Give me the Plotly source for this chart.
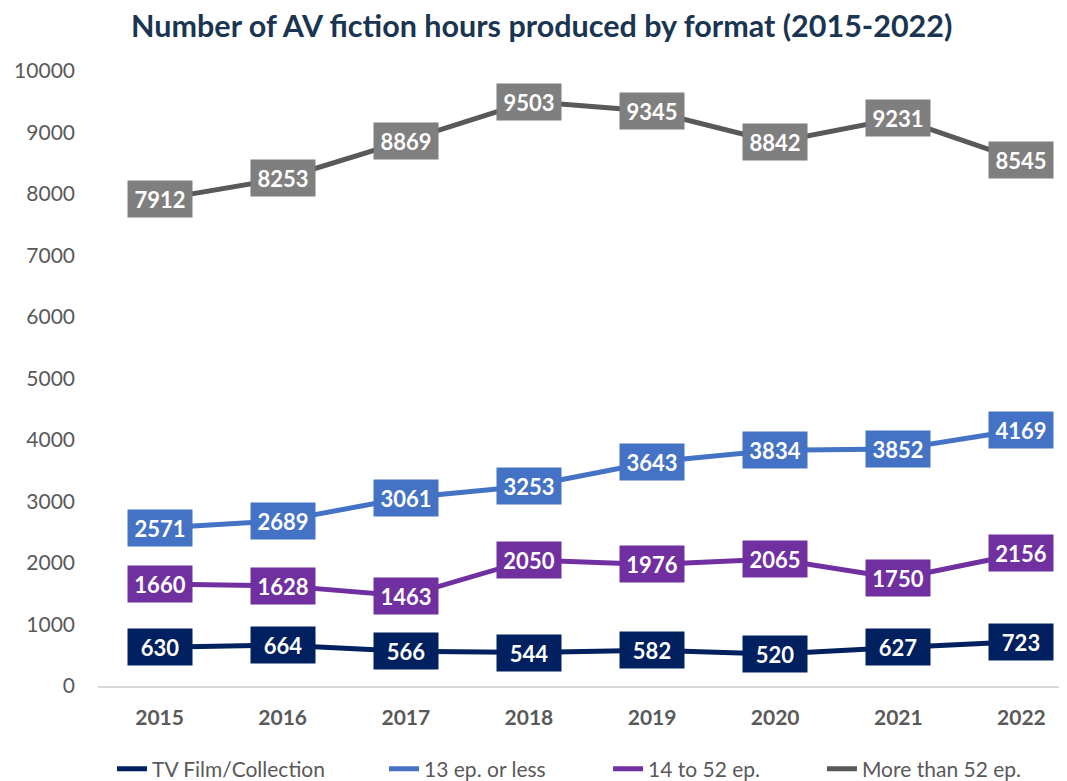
import plotly.graph_objects as go

years = ["2015", "2016", "2017", "2018", "2019", "2020", "2021", "2022"]
tv_film = [630, 664, 566, 544, 582, 520, 627, 723]
ep13_or_less = [2571, 2689, 3061, 3253, 3643, 3834, 3852, 4169]
ep14_to_52 = [1660, 1628, 1463, 2050, 1976, 2065, 1750, 2156]
more_than_52 = [7912, 8253, 8869, 9503, 9345, 8842, 9231, 8545]

series = [
    ("TV Film/Collection", tv_film, "#002060", "#002060"),
    ("13 ep. or less", ep13_or_less, "#4472C4", "#4472C4"),
    ("14 to 52 ep.", ep14_to_52, "#7030A0", "#7030A0"),
    ("More than 52 ep.", more_than_52, "#595959", "#7F7F7F"),
]
legend_x = [0.0982, 0.3551, 0.5666, 0.7686]

W, H = 1059, 773  # page body has an 8px margin
FONT = "Lato, Calibri, sans-serif"
fig = go.Figure()
annotations = []
legends = {}
for k, (name, vals, lc, bc) in enumerate(series):
    lname = "legend" if k == 0 else f"legend{k+1}"
    fig.add_trace(go.Scatter(
        x=list(range(len(years))), y=vals, name=name, mode="lines",
        line=dict(color=lc, width=5), legend=lname,
    ))
    legends[lname] = dict(
        orientation="h", x=legend_x[k], xanchor="left", xref="container",
        y=0.0155, yanchor="middle", yref="container",
        font=dict(family=FONT, size=21, color="#595959"),
        itemwidth=30, bgcolor="rgba(0,0,0,0)",
    )
    for i, v in enumerate(vals):
        annotations.append(dict(
            x=i, y=v, xref="x", yref="y", text=f"<b>{v}</b>", showarrow=False,
            bgcolor=bc, width=64, height=36, borderpad=0,
            font=dict(family=FONT, size=22, color="white"),
            xanchor="center", yanchor="middle",
        ))

fig.update_layout(
    width=W, height=H,
    margin=dict(l=90, r=0, t=63, b=95, autoexpand=False),
    paper_bgcolor="white", plot_bgcolor="white",
    showlegend=True,
    title=dict(text="<b>Number of AV fiction hours produced by format (2015-2022)</b>",
               x=0.504, xanchor="center", xref="container", y=0.976, yanchor="middle",
               font=dict(family=FONT, size=30.5, color="#1A3552")),
    xaxis=dict(
        tickmode="array", tickvals=list(range(len(years))),
        ticktext=[f"<b>{y}</b>" for y in years],
        range=[-0.5, 7.37], showgrid=False, zeroline=False,
        showline=True, linecolor="#D9D9D9", linewidth=2,
        ticks="", ticklabelstandoff=12,
        tickfont=dict(family=FONT, size=21, color="#595959"),
    ),
    yaxis=dict(
        range=[0, 10000], dtick=1000, tickformat="d", showgrid=False, zeroline=False,
        showline=False, ticks="", ticklabelstandoff=22,
        tickfont=dict(family=FONT, size=21, color="#595959"),
    ),
    annotations=annotations,
    **legends,
)
fig.write_html("out.html")
